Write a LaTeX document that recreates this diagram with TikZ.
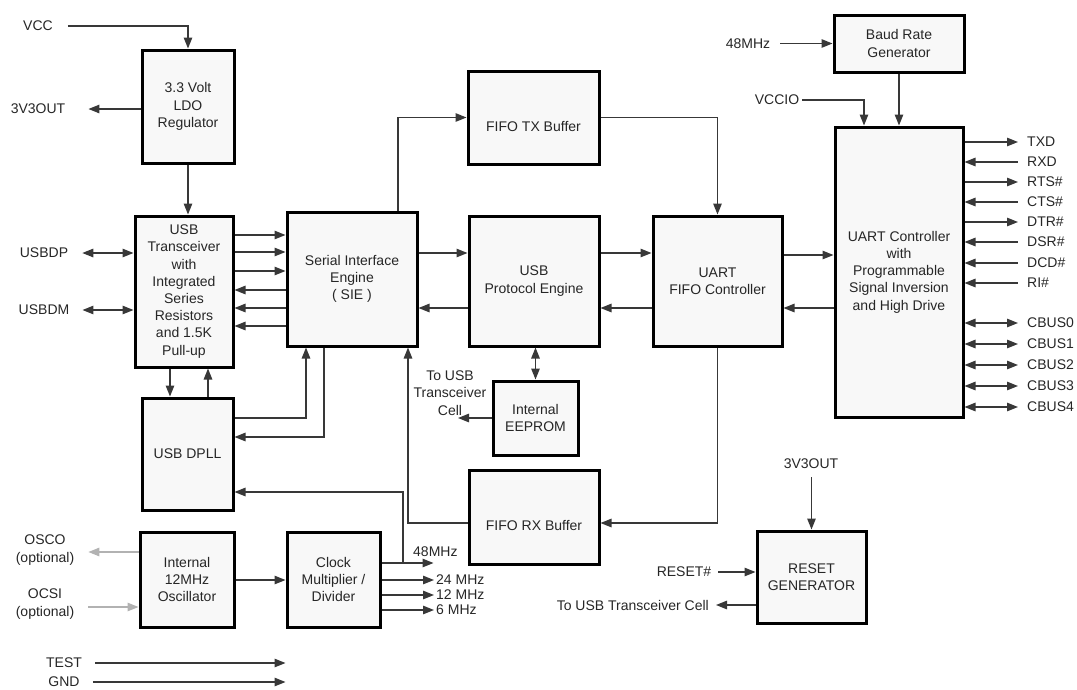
\documentclass[tikz,border=0pt]{standalone}
\usepackage{fontspec}
\setmainfont{Liberation Sans}
\usetikzlibrary{positioning,arrows.meta,calc}
\definecolor{boxfill}{HTML}{F8F8F8}
\definecolor{wirecol}{HTML}{383838}
\definecolor{optcol}{HTML}{B2B2B2}
\definecolor{txtcol}{HTML}{262626}
\tikzset{
  blk/.style={draw=black, line width=3pt, fill=boxfill, align=center, inner sep=2pt, text=txtcol},
  lbl/.style={inner sep=0pt, align=center, text=txtcol},
  ln/.style={draw=wirecol, line width=1.3pt},
  sig/.style={ln, -{Triangle[length=11pt,width=8.5pt]}},
  rsig/.style={ln, {Triangle[length=11pt,width=8.5pt]}-},
  bisig/.style={ln, {Triangle[length=11pt,width=8.5pt]}-{Triangle[length=11pt,width=8.5pt]}},
  osig/.style={draw=optcol, line width=1.3pt, -{Triangle[length=11pt,width=8.5pt]}}}

\begin{document}
\begin{tikzpicture}[x=1pt, y=-1pt, font=\fontsize{14}{17.2}\selectfont]
\useasboundingbox (0,0) rectangle (1077,689);
% blocks
\node[blk, minimum width=92pt, minimum height=113pt] (ldo) at (188,106.5) {3.3 Volt\\LDO\\Regulator};
\node[blk, minimum width=98pt, minimum height=151pt] (trx) at (184,291.5) {USB\\Transceiver\\with\\Integrated\\Series\\Resistors\\and 1.5K\\Pull-up};
\node[blk, minimum width=91pt, minimum height=112pt] (dpll) at (187.5,454) {USB DPLL};
\node[blk, minimum width=94pt, minimum height=95pt] (osc) at (187,579.5) {Internal\\12MHz\\Oscillator};
\node[blk, minimum width=93pt, minimum height=95pt] (clk) at (333.5,579.5) {Clock\\Multiplier /\\Divider};
\node[blk, minimum width=130pt, minimum height=134pt] (sie) at (352,279) {Serial Interface\\Engine\\( SIE )};
\node[blk, minimum width=131pt, minimum height=93pt, text height=37pt, text depth=10pt] (tx) at (533.5,117.5) {FIFO TX Buffer};
\node[blk, minimum width=130pt, minimum height=130pt] (pe) at (534,281) {USB\\Protocol Engine};
\node[blk, minimum width=85pt, minimum height=74pt] (eep) at (535.5,418) {Internal\\EEPROM};
\node[blk, minimum width=130pt, minimum height=94pt, text height=37pt, text depth=10pt] (rx) at (534,517) {FIFO RX Buffer};
\node[blk, minimum width=129pt, minimum height=130pt] (fifo) at (717.5,281) {UART\\FIFO Controller};
\node[blk, minimum width=130pt, minimum height=57pt] (baud) at (899,43.5) {Baud Rate\\Generator};
\node[blk, minimum width=128pt, minimum height=290pt] (uart) at (899,272) {UART Controller\\with\\Programmable\\Signal Inversion\\and High Drive};
\node[blk, minimum width=109pt, minimum height=92pt] (rst) at (811.5,577) {RESET\\GENERATOR};
% supply and USB side
\node[lbl] (vcc) at (38,26) {VCC};
\node[lbl] (v3o) at (38,109) {3V3OUT};
\node[lbl] (dp) at (44,253) {USBDP};
\node[lbl] (dm) at (44,310) {USBDM};
\draw[sig, shorten <=15pt] (vcc.east) -| (ldo.north);
\draw[sig, shorten >=23pt] (ldo.west |- v3o) -- (v3o.east);
\draw[sig] (ldo.south) -- (ldo.south |- trx.north);
\draw[bisig, shorten <=14pt] (dp.east) -- (trx.west |- dp.east);
\draw[bisig, shorten <=13pt] (dm.east) -- (trx.west |- dm.east);
\foreach \y in {235,252,271}
  \draw[sig] (trx.east |- 0,\y) -- (sie.west |- 0,\y);
\foreach \y in {290,308,326}
  \draw[rsig] (trx.east |- 0,\y) -- (sie.west |- 0,\y);
\draw[sig] (trx.south -| 170,0) -- (dpll.north -| 170,0);
\draw[sig] (dpll.north -| 208,0) -- (trx.south -| 208,0);
\draw[sig] (dpll.east |- 0,418) -| (sie.south -| 306,0);
\draw[sig] (sie.south -| 324,0) |- (dpll.east |- 0,437);
% engine and buffers
\draw[sig] (sie.north -| 398,0) |- (tx.west);
\draw[sig] (tx.east) -| (fifo.north);
\draw[sig] (sie.east |- 0,253) -- (pe.west |- 0,253);
\draw[sig] (pe.west |- 0,308) -- (sie.east |- 0,308);
\draw[sig] (pe.east |- 0,253) -- (fifo.west |- 0,253);
\draw[sig] (fifo.west |- 0,308) -- (pe.east |- 0,308);
\draw[sig] (fifo.east |- 0,255) -- (uart.west |- 0,255);
\draw[sig] (uart.west |- 0,308) -- (fifo.east |- 0,308);
\draw[bisig] (pe.south -| eep.north) -- (eep.north);
\node[lbl] (cell) at (450,393) {To USB\\Transceiver\\Cell};
\coordinate (celltip) at (458,418);
\draw[sig] (eep.west) -- (celltip);
\draw[sig] (fifo.south) |- (rx.east |- 0,523);
\draw[sig] (rx.west |- 0,523) -| (sie.south -| 408,0);
% clocks
\draw[sig] (osc.east |- 0,580) -- (clk.west |- 0,580);
\node[lbl] (osco) at (45,550) {OSCO\\(optional)};
\node[lbl] (ocsi) at (45,604) {OCSI\\(optional)};
\draw[osig, shorten >=14pt] (osc.west |- 0,552) -- (osco.east |- 0,552);
\draw[osig, shorten <=14pt] (ocsi.east |- 0,607) -- (osc.west |- 0,607);
\coordinate (tap) at (403,563);
\draw[sig] (clk.east |- tap) -- ++(52,0);
\draw[sig] (tap) |- (dpll.east |- 0,492);
\node[lbl, anchor=south west] (f48) at (413,557) {48MHz};
\foreach \i/\f/\y in {24/24 MHz/580, 12/12 MHz/595, 6/6 MHz/610} {
  \node[lbl, anchor=west] (f\i) at (436,\y) {\f};
  \draw[sig, shorten >=2pt] (clk.east |- f\i.west) -- (f\i.west);}
\node[lbl] (test) at (64,663) {TEST};
\node[lbl] (gnd) at (64,682) {GND};
\draw[sig, shorten <=13pt] (test.east) -- (test.east -| clk.west);
\draw[sig, shorten <=13pt] (gnd.east) -- (gnd.east -| clk.west);
% UART side
\node[lbl] (b48) at (748,43.5) {48MHz};
\draw[sig, shorten <=10pt] (b48.east) -- (baud.west);
\draw[sig] (baud.south) -- (uart.north);
\node[lbl] (vccio) at (777,100) {VCCIO};
\draw[sig, shorten <=3pt] (vccio.east) -| (uart.north -| 864,0);
\foreach \i/\n/\y/\d in {1/TXD/142/sig, 2/RXD/162/rsig, 3/RTS\#/182/sig, 4/CTS\#/202/rsig,
    5/DTR\#/222/sig, 6/DSR\#/242/rsig, 7/DCD\#/263/rsig, 8/RI\#/283/rsig,
    9/CBUS0/323/bisig, 10/CBUS1/344/bisig, 11/CBUS2/365/bisig, 12/CBUS3/386/bisig, 13/CBUS4/407/bisig} {
  \node[lbl, anchor=west] (pin\i) at (1027,\y) {\n};
  \draw[\d, shorten >=9pt] (uart.east |- pin\i.west) -- (pin\i.west);}
% reset
\node[lbl] (v3r) at (811,464) {3V3OUT};
\draw[sig, shorten <=8pt] (v3r.south -| rst.north) -- (rst.north);
\node[lbl] (rstin) at (684,572) {RESET\#};
\draw[sig, shorten <=7pt] (rstin.east) -- (rst.west |- rstin.east);
\node[lbl, anchor=east] (rcell) at (709,605) {To USB Transceiver Cell};
\draw[sig, shorten >=7pt] (rst.west |- rcell.east) -- (rcell.east);
\end{tikzpicture}
\end{document}
